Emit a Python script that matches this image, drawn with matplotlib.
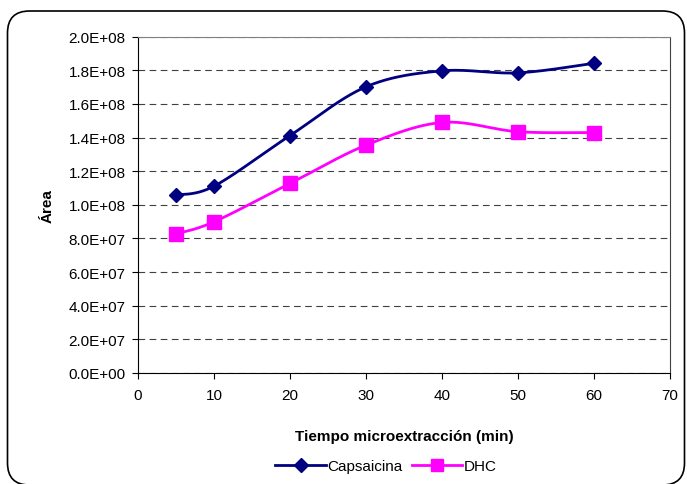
import numpy as np
import matplotlib
matplotlib.use("Agg")
import matplotlib.pyplot as plt
from matplotlib.patches import FancyBboxPatch
from matplotlib.lines import Line2D
from matplotlib.transforms import IdentityTransform

plt.rcParams['font.family'] = ['Liberation Sans', 'DejaVu Sans']

tiempo = [5, 10, 20, 30, 40, 50, 60]
capsaicina = [1.058e8, 1.111e8, 1.412e8, 1.702e8, 1.797e8, 1.785e8, 1.842e8]
dhc = [0.827e8, 0.899e8, 1.127e8, 1.355e8, 1.490e8, 1.435e8, 1.430e8]
yticks = np.arange(0, 2.01e8, 2e7)
xticks = range(0, 71, 10)


def smooth(x, y, n=40):
    # Excel-like smoothed line: Catmull-Rom as cubic Bezier segments
    p = np.column_stack([x, y]).astype(float)
    p = np.vstack([p[0], p, p[-1]])
    out = []
    t = np.linspace(0, 1, n)[:, None]
    for i in range(1, len(p) - 2):
        p0, p1, p2, p3 = p[i - 1], p[i], p[i + 1], p[i + 2]
        c1 = p1 + (p2 - p0) / 6
        c2 = p2 - (p3 - p1) / 6
        seg = ((1 - t) ** 3) * p1 + 3 * ((1 - t) ** 2) * t * c1 \
            + 3 * (1 - t) * t ** 2 * c2 + t ** 3 * p2
        out.append(seg if i == 1 else seg[1:])
    s = np.vstack(out)
    return s[:, 0], s[:, 1]


fig = plt.figure(figsize=(6.87, 4.85), dpi=100)
ax = fig.add_axes([138 / 687, 111 / 485, 532 / 687, 336.3 / 485])

navy, mag = '#000080', '#FF00FF'
sx, sy = smooth(tiempo, capsaicina)
ax.plot(sx, sy, color=navy, lw=2, zorder=3)
ax.plot(tiempo, capsaicina, ls='none', marker='D', ms=7, color=navy, zorder=4)
sx, sy = smooth(tiempo, dhc)
ax.plot(sx, sy, color=mag, lw=2, zorder=3)
ax.plot(tiempo, dhc, ls='none', marker='s', ms=10, color=mag, zorder=4)

ax.set_xlim(0, 70)
ax.set_ylim(0, 2e8)
ax.set_xticks(xticks)
ax.set_yticks(yticks)
ax.set_yticklabels([f"{v:.1E}" for v in yticks])
ax.tick_params(direction='out', length=4, width=0.8, labelsize=11, color='black')
ax.tick_params(axis='y', pad=5)
ax.tick_params(axis='x', pad=7)
ax.grid(axis='y', color='#404040', lw=0.8, ls=(0, (6, 4)))
ax.set_axisbelow(True)
for s in ax.spines.values():
    s.set_linewidth(0.8)
ax.spines['top'].set_color('#808080')
ax.spines['right'].set_color('#404040')

ax.set_xlabel('Tiempo microextracción (min)', fontsize=11, fontweight='bold', labelpad=19)
ax.set_ylabel('Área', fontsize=11, fontweight='bold', labelpad=10)

handles = [Line2D([], [], color=navy, lw=2, marker='D', ms=7),
           Line2D([], [], color=mag, lw=2, marker='s', ms=9)]
fig.legend(handles, ['Capsaicina', 'DHC'], loc='center', bbox_to_anchor=(386 / 687, 1 - 467 / 485),
           ncol=2, frameon=False, fontsize=11, handlelength=3.3, handletextpad=0.1,
           columnspacing=0.6)

border = FancyBboxPatch((7.5, -1), 677, 474, boxstyle="round,pad=0,rounding_size=22",
                        transform=IdentityTransform(), fill=False, ec='black', lw=1.2)
fig.patches.append(border)

fig.savefig('out.png', dpi=100, facecolor='white')
